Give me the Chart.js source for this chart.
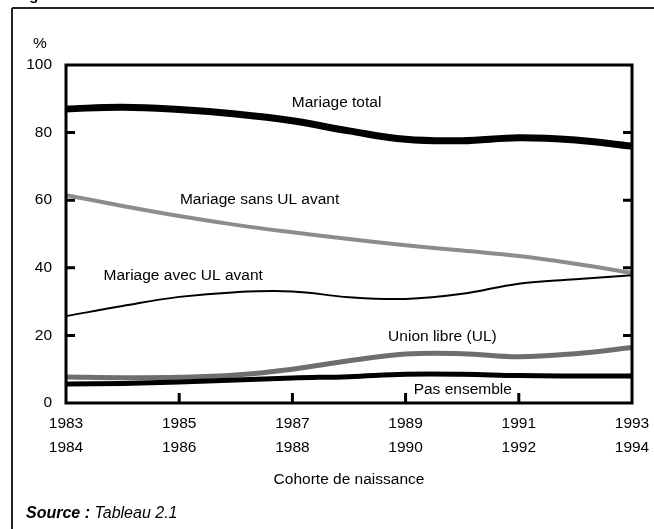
<!DOCTYPE html>
<html>
<head>
<meta charset="utf-8">
<script src="https://cdn.jsdelivr.net/npm/chart.js@4.4.1/dist/chart.umd.min.js"></script>
<style>
html,body{margin:0;padding:0;background:#fff;}
canvas{display:block;}
</style>
</head>
<body>
<canvas id="c" width="654" height="529"></canvas>
<script>
const years = [1983, 1984, 1985, 1986, 1987, 1988, 1989, 1990, 1991, 1992, 1993];
const mariageTotal = [87.0, 87.5, 86.8, 85.5, 83.5, 80.5, 78.0, 77.6, 78.5, 77.8, 76.0];
const mariageSansUL = [61.5, 58.3, 55.3, 52.7, 50.5, 48.5, 46.7, 45.1, 43.5, 41.2, 38.5];
const mariageAvecUL = [25.7, 28.7, 31.4, 32.8, 33.0, 31.3, 30.8, 32.3, 35.3, 36.6, 37.8];
const unionLibre = [7.7, 7.5, 7.6, 8.3, 10.0, 12.5, 14.5, 14.6, 13.7, 14.6, 16.4];
const pasEnsemble = [5.6, 5.8, 6.2, 6.8, 7.4, 7.8, 8.5, 8.5, 8.1, 8.0, 8.0];
const yTicks = [0, 20, 40, 60, 80, 100];
const xTicks = [1983, 1985, 1987, 1989, 1991, 1993];
const seriesNames = ["Mariage total", "Mariage sans UL avant", "Mariage avec UL avant", "Union libre (UL)", "Pas ensemble"];
// label anchor points (in data units)
const labelAnchors = [[1987.78, 88.7], [1986.42, 60.0], [1985.07, 37.6], [1989.65, 19.5], [1990.01, 3.85]];

const FONT = "'Liberation Sans', Arial, sans-serif";
const FS = 15.5;
const pts = arr => arr.map((v, i) => ({x: years[i], y: v}));

const decor = {
  id: 'decor',
  afterDatasetsDraw(chart) {
    const ctx = chart.ctx, a = chart.chartArea;
    const xs = chart.scales.x, ys = chart.scales.y;
    ctx.save();
    // frame
    ctx.strokeStyle = '#000';
    ctx.lineWidth = 3;
    ctx.strokeRect(a.left, a.top, a.right - a.left, a.bottom - a.top);
    // tick marks
    ctx.lineWidth = 3;
    ctx.beginPath();
    yTicks.slice(1, -1).forEach(v => {
      const y = ys.getPixelForValue(v);
      ctx.moveTo(a.left, y); ctx.lineTo(a.left + 9, y);
      ctx.moveTo(a.right, y); ctx.lineTo(a.right - 9, y);
    });
    xTicks.slice(1, -1).forEach(v => {
      const x = xs.getPixelForValue(v);
      ctx.moveTo(x, a.bottom); ctx.lineTo(x, a.bottom - 10);
    });
    ctx.stroke();
    // series labels
    ctx.fillStyle = '#000';
    ctx.font = FS + 'px ' + FONT;
    ctx.textAlign = 'center';
    ctx.textBaseline = 'middle';
    seriesNames.forEach((n, i) => {
      const [lx, ly] = labelAnchors[i];
      ctx.fillText(n, xs.getPixelForValue(lx), ys.getPixelForValue(ly));
    });
    // unit
    ctx.fillText('%', 40, 44);
    // source
    ctx.textAlign = 'left';
    ctx.font = 'italic bold 16px ' + FONT;
    ctx.fillText('Source :', 26, 514);
    const w = ctx.measureText('Source : ').width;
    ctx.font = 'italic 16px ' + FONT;
    ctx.fillText('Tableau 2.1', 26 + w, 514);
    // outer frame lines
    ctx.strokeStyle = '#222';
    ctx.lineWidth = 2;
    ctx.beginPath();
    ctx.moveTo(12, 8); ctx.lineTo(654, 8);
    ctx.moveTo(12, 8); ctx.lineTo(12, 529);
    ctx.stroke();
    // cut-off title
    ctx.font = 'bold 15px ' + FONT;
    ctx.textBaseline = 'alphabetic';
    ctx.fillText('Figure', 16, 0);
    ctx.restore();
  }
};

new Chart(document.getElementById('c'), {
  type: 'line',
  data: {
    datasets: [
      {label: seriesNames[4], data: pts(pasEnsemble), borderColor: '#000', borderWidth: 5},
      {label: seriesNames[3], data: pts(unionLibre), borderColor: '#6e6e6e', borderWidth: 5},
      {label: seriesNames[2], data: pts(mariageAvecUL), borderColor: '#000', borderWidth: 2},
      {label: seriesNames[1], data: pts(mariageSansUL), borderColor: '#8c8c8c', borderWidth: 4},
      {label: seriesNames[0], data: pts(mariageTotal), borderColor: '#000', borderWidth: 7}
    ].map(d => Object.assign(d, {pointRadius: 0, tension: 0.4, fill: false, borderCapStyle: 'butt'}))
  },
  options: {
    responsive: false,
    animation: false,
    devicePixelRatio: 1,
    layout: {padding: {left: 0, right: 22, top: 65, bottom: 0}},
    plugins: {legend: {display: false}, tooltip: {enabled: false}},
    scales: {
      x: {
        type: 'linear', min: 1983, max: 1993,
        afterBuildTicks: s => { s.ticks = xTicks.map(v => ({value: v})); },
        afterFit: s => { s.height = 126; s.paddingLeft = 0; s.paddingRight = 0; },
        grid: {display: false, drawTicks: false},
        border: {display: false},
        ticks: {
          padding: 9, color: '#000', maxRotation: 0, autoSkip: false,
          font: {family: FONT, size: FS, lineHeight: 1.55},
          callback: v => [String(v), String(v + 1)]
        },
        title: {display: true, text: 'Cohorte de naissance', color: '#000',
          font: {family: FONT, size: FS}, padding: {top: 0, bottom: 40}}
      },
      y: {
        min: 0, max: 100,
        afterBuildTicks: s => { s.ticks = yTicks.map(v => ({value: v})); },
        afterFit: s => { s.width = 66; s.paddingTop = 0; s.paddingBottom = 0; },
        grid: {display: false, drawTicks: false},
        border: {display: false},
        ticks: {padding: 14, color: '#000', font: {family: FONT, size: FS}}
      }
    }
  },
  plugins: [decor]
});
</script>
</body>
</html>
